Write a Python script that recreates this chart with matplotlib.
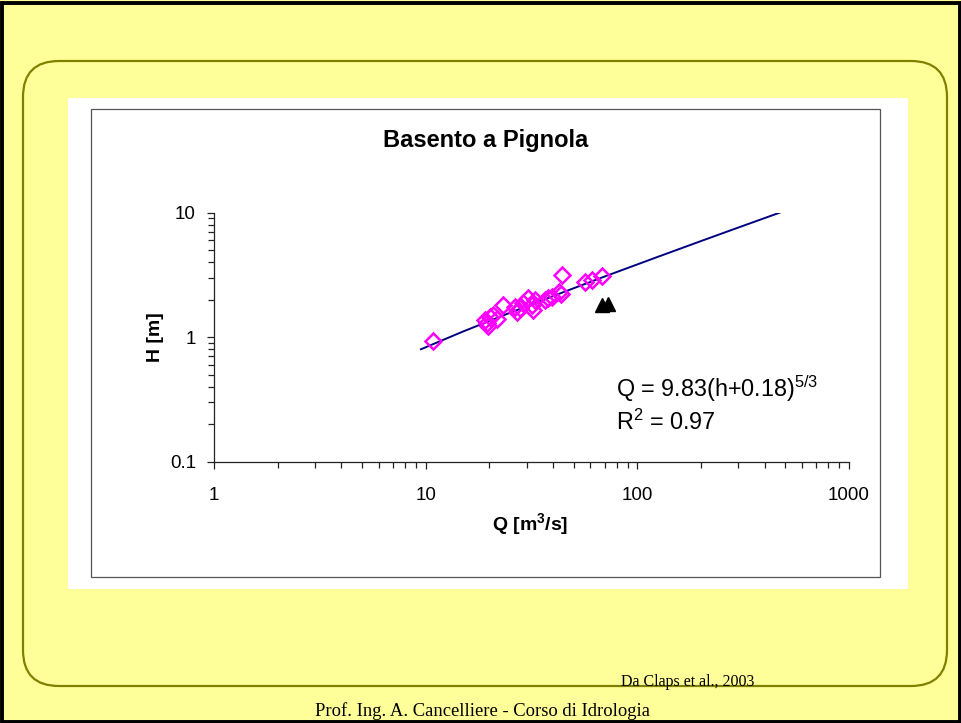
import matplotlib
matplotlib.use("Agg")
import matplotlib.pyplot as plt
from matplotlib.patches import Rectangle, FancyBboxPatch
from matplotlib.ticker import LogLocator, NullFormatter, FuncFormatter

plt.rcParams["font.family"] = ["Liberation Sans", "DejaVu Sans"]
plt.rcParams["mathtext.fontset"] = "custom"
plt.rcParams["mathtext.rm"] = "Liberation Sans"
plt.rcParams["mathtext.it"] = "Liberation Sans"
plt.rcParams["mathtext.bf"] = "Liberation Sans:bold"

q_obs = [10.8, 19.1, 20.1, 19.5, 19.7, 20.8, 21.7, 23.1, 26.5, 27.0, 27.9, 28.9, 30.5,
         31.8, 32.2, 32.9, 36.7, 37.8, 39.5, 42.7, 43.6, 44.1, 56.7, 61.1, 68.2]
h_obs = [0.93, 1.37, 1.45, 1.29, 1.24, 1.50, 1.40, 1.82, 1.74, 1.59, 1.71, 1.87, 2.06,
         1.81, 1.65, 1.98, 1.98, 2.06, 2.09, 2.30, 2.21, 3.15, 2.77, 2.87, 3.09]

# punti anomali (triangoli neri)
q_out = [68.2, 72.8]
h_out = [1.81, 1.84]

# scala di deflusso Q = 9.83(h+0.18)^(5/3)
q_fit = [9.5, 15, 25, 40, 70, 120, 200, 300, 470]
h_fit = [0.80, 1.11, 1.57, 2.14, 3.07, 4.31, 5.92, 7.60, 10.0]

W, H = 961, 723
fig = plt.figure(figsize=(W / 100, H / 100), dpi=100, facecolor="#FFFF99")
tr = fig.dpi_scale_trans


def box(x0, y0, x1, y1):
    # coordinate in pixel (origine in alto a sinistra) -> pollici
    return x0 / 100, (H - y1) / 100, (x1 - x0) / 100, (y1 - y0) / 100


# cornice nera esterna
x, y, w, h = box(1.5, 2.5, 959.5, 721.5)
fig.add_artist(Rectangle((x, y), w, h, transform=tr, fill=False, ec="black", lw=2.8, zorder=0))

# riquadro arrotondato della slide
r = 0.36
x, y, w, h = box(23, 61, 947, 686)
fig.add_artist(FancyBboxPatch((x + r, y + r), w - 2 * r, h - 2 * r,
                              boxstyle="round,pad=%g" % r, transform=tr,
                              fc="#FFFF99", ec="#808000", lw=1.6, zorder=0.5))

# pannello bianco del grafico
x, y, w, h = box(68, 98, 908, 589)
fig.add_artist(Rectangle((x, y), w, h, transform=tr, fc="white", ec="none", zorder=1))
x, y, w, h = box(91, 109, 880, 577)
fig.add_artist(Rectangle((x, y), w, h, transform=tr, fill=False, ec="#555555", lw=0.9, zorder=1.1))

# assi log-log
ax = fig.add_axes([214 / W, 1 - 461.7 / H, (849 - 214) / W, (461.7 - 212.7) / H])
ax.set_zorder(2)
ax.patch.set_alpha(0)
ax.set_xscale("log")
ax.set_yscale("log")
ax.set_xlim(1, 1000)
ax.set_ylim(0.1, 10)

ax.plot(q_fit, h_fit, color="#000080", lw=1.4, zorder=2)
ax.plot(q_obs, h_obs, ls="none", marker="D", ms=7.8, mfc="none", mec="#FF00FF", mew=1.8, zorder=3)
ax.plot(q_out, h_out, ls="none", marker="^", ms=9.5, mfc="black", mec="black", zorder=3)

for s in ["top", "right"]:
    ax.spines[s].set_visible(False)
for s in ["left", "bottom"]:
    ax.spines[s].set_color("#222222")
    ax.spines[s].set_linewidth(0.9)

fmt = FuncFormatter(lambda v, p: "%g" % v)
for a in [ax.xaxis, ax.yaxis]:
    a.set_major_locator(LogLocator(base=10))
    a.set_minor_locator(LogLocator(base=10, subs=range(2, 10)))
    a.set_minor_formatter(NullFormatter())
    a.set_major_formatter(fmt)
ax.tick_params(which="major", direction="out", length=5, width=0.9, labelsize=13.5, colors="#222222")
ax.tick_params(which="minor", direction="out", length=4, width=0.9, colors="#222222")
ax.tick_params(axis="x", which="major", pad=13)
ax.tick_params(axis="y", which="major", pad=8)
for lab in ax.get_xticklabels() + ax.get_yticklabels():
    lab.set_color("black")

# testi
fig.text(486 / W, 1 - 140 / H, "Basento a Pignola", ha="center", va="center",
         fontsize=17, fontweight="bold")
fig.text(155 / W, 1 - 337 / H, "H [m]", ha="center", va="center", rotation=90,
         fontsize=14, fontweight="bold")
fig.text(530 / W, 1 - 524 / H, r"Q [m$\mathbf{^3}$/s]", ha="center", va="center",
         fontsize=14, fontweight="bold")
fig.text(616 / W, 1 - 397 / H, r"Q = 9.83(h+0.18)$^{5/3}$", ha="left", va="baseline",
         fontsize=16.8)
fig.text(616 / W, 1 - 430 / H, r"R$^{2}$ = 0.97", ha="left", va="baseline",
         fontsize=16.8)

fig.text(621 / W, 1 - 686 / H, "Da Claps et al., 2003", ha="left", va="baseline",
         fontsize=11.5, family=["Liberation Serif", "DejaVu Serif"], zorder=3)
fig.text(315 / W, 1 - 716 / H, "Prof. Ing. A. Cancelliere - Corso di Idrologia",
         ha="left", va="baseline", fontsize=13.4,
         family=["Liberation Serif", "DejaVu Serif"], zorder=3)

fig.savefig("out.png", dpi=100, facecolor=fig.get_facecolor())
